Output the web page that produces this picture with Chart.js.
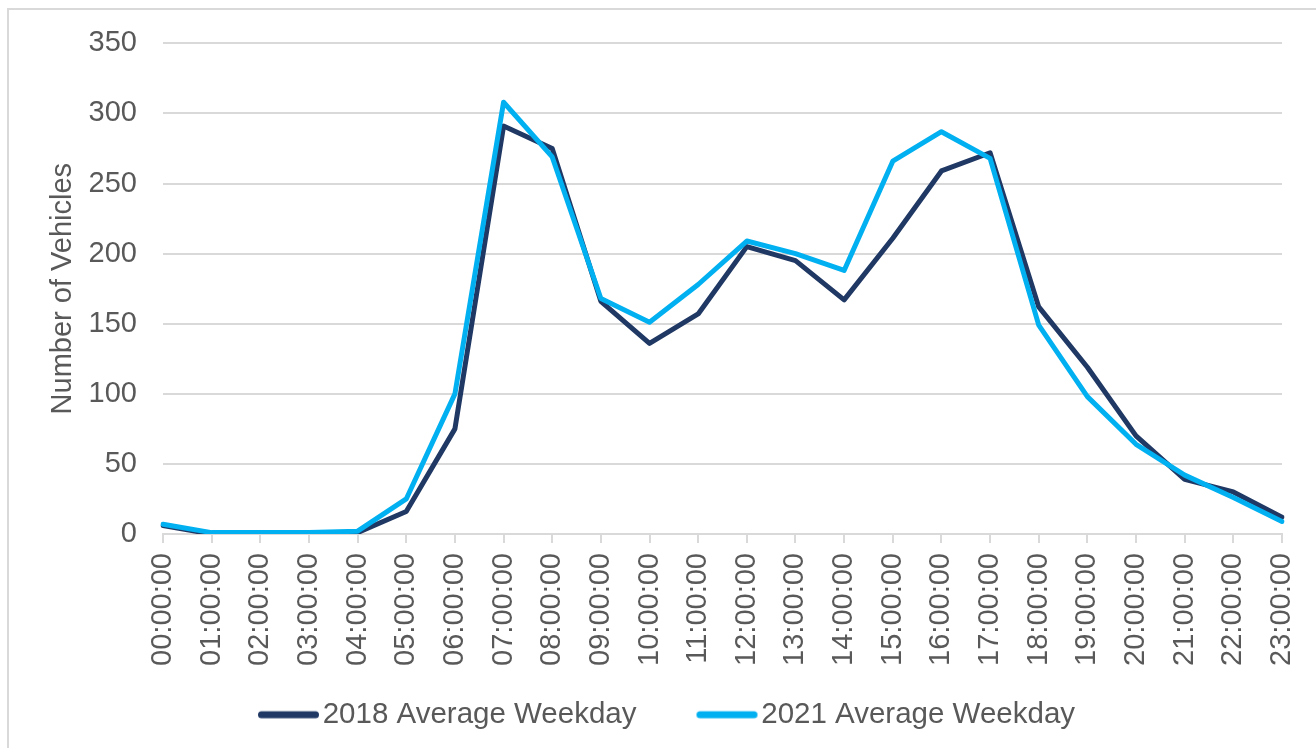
<!DOCTYPE html>
<html>
<head>
<meta charset="utf-8">
<title>Average Weekday Traffic</title>
<script src="https://cdn.jsdelivr.net/npm/chart.js@4.4.1/dist/chart.umd.min.js"></script>
<style>
    body { margin: 0; background: #fff; overflow: hidden; }
    #frame { position: absolute; left: 7px; top: 8px; width: 1400px; height: 900px; border: 2px solid #d9d9d9; }
    #trafficChart { position: absolute; left: 0; top: 0; }
</style>
</head>
<body>
<div id="frame"></div>
<canvas id="trafficChart" width="1316" height="748"></canvas>
<script>
const hourLabels = ['00:00:00', '01:00:00', '02:00:00', '03:00:00', '04:00:00', '05:00:00',
    '06:00:00', '07:00:00', '08:00:00', '09:00:00', '10:00:00', '11:00:00',
    '12:00:00', '13:00:00', '14:00:00', '15:00:00', '16:00:00', '17:00:00',
    '18:00:00', '19:00:00', '20:00:00', '21:00:00', '22:00:00', '23:00:00'];
const weekday2018 = [6, 0, 1, 1, 1, 16, 75, 291, 275, 166, 136, 157, 205, 195, 167, 211, 259, 272, 162, 119, 70, 39, 30, 12];
const weekday2021 = [7, 1, 1, 1, 2, 25, 100, 308, 269, 168, 151, 178, 209, 200, 188, 266, 287, 268, 149, 98, 64, 42, 26, 9];
const seriesNames = ['2018 Average Weekday', '2021 Average Weekday'];
const seriesColours = ['#203864', '#00b0f0'];

const textColour = '#595959';
const gridColour = '#d9d9d9';
const fontFamily = "'Liberation Sans', Arial, sans-serif";

// legend swatch: a short thick line with round ends, sitting at the right of a wider transparent image
function makeSwatch(colour) {
    let c = document.createElement('canvas');
    c.width = 102;
    c.height = 10;
    let g = c.getContext('2d');
    g.strokeStyle = colour;
    g.lineWidth = 7;
    g.lineCap = 'round';
    g.beginPath();
    g.moveTo(43.5, 5);
    g.lineTo(97.5, 5);
    g.stroke();
    return c;
}
const swatches = seriesColours.map(makeSwatch);

let ctx = document.getElementById('trafficChart').getContext('2d');
let trafficChart = new Chart(ctx, {
    type: 'line',
    data: {
        labels: hourLabels,
        datasets: [
            {
                label: seriesNames[0],
                data: weekday2018,
                borderColor: seriesColours[0],
                backgroundColor: seriesColours[0],
                borderWidth: 5,
                borderJoinStyle: 'round',
                borderCapStyle: 'round',
                pointRadius: 0,
                tension: 0,
                fill: false,
                order: 1
            },
            {
                label: seriesNames[1],
                data: weekday2021,
                borderColor: seriesColours[1],
                backgroundColor: seriesColours[1],
                borderWidth: 5,
                borderJoinStyle: 'round',
                borderCapStyle: 'round',
                pointRadius: 0,
                tension: 0,
                fill: false,
                order: 0
            }
        ]
    },
    options: {
        responsive: false,
        animation: false,
        devicePixelRatio: 1,
        layout: {
            padding: { left: 23, right: 34, top: 42, bottom: 8.5 }
        },
        scales: {
            x: {
                offset: false,
                grid: {
                    drawOnChartArea: false,
                    drawTicks: true,
                    tickLength: 9,
                    color: gridColour,
                    lineWidth: 2
                },
                border: { display: true, color: gridColour, width: 2 },
                ticks: {
                    autoSkip: false,
                    maxRotation: 90,
                    minRotation: 90,
                    padding: 10,
                    color: textColour,
                    font: { family: fontFamily, size: 29 }
                },
                afterFit: (scale) => {
                    scale.height = 134;
                    scale.paddingLeft = 0;
                    scale.paddingRight = 0;
                }
            },
            y: {
                min: 0,
                max: 350,
                grid: {
                    drawTicks: false,
                    color: gridColour,
                    lineWidth: 2
                },
                border: { display: false },
                ticks: {
                    stepSize: 50,
                    padding: 26,
                    color: textColour,
                    font: { family: fontFamily, size: 29 }
                },
                title: {
                    display: true,
                    text: 'Number of Vehicles',
                    color: textColour,
                    padding: { top: 22.6, bottom: 0 },
                    font: { family: fontFamily, size: 29 }
                },
                afterFit: (scale) => { scale.width = 140; }
            }
        },
        plugins: {
            legend: {
                display: true,
                position: 'bottom',
                labels: {
                    usePointStyle: true,
                    pointStyleWidth: 78,
                    padding: 32,
                    color: textColour,
                    font: { family: fontFamily, size: 29.5 },
                    generateLabels: (chart) => chart.data.datasets.map((ds, i) => ({
                        text: ds.label,
                        fillStyle: ds.borderColor,
                        strokeStyle: ds.borderColor,
                        fontColor: textColour,
                        lineWidth: 0,
                        pointStyle: swatches[i],
                        hidden: false,
                        datasetIndex: i
                    }))
                }
            },
            tooltip: { enabled: false }
        }
    }
});
</script>
</body>
</html>
